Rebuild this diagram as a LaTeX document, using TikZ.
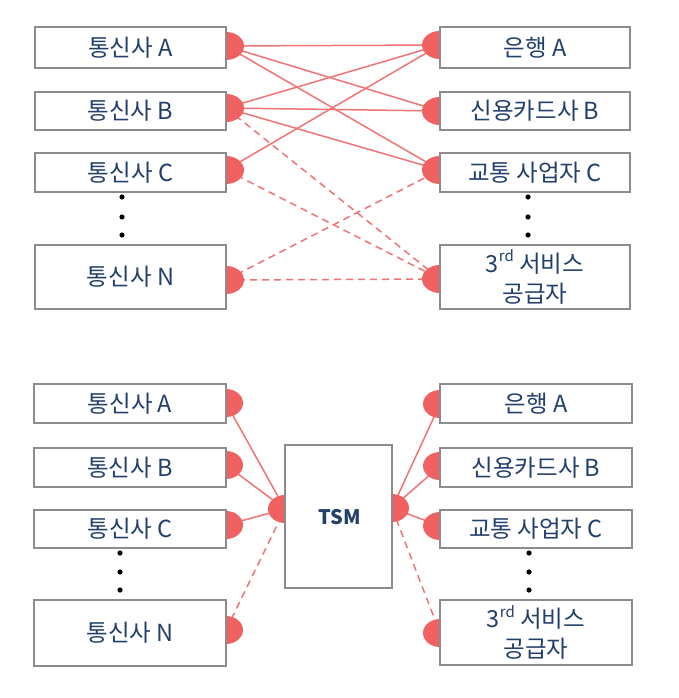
\documentclass[tikz,border=0pt]{standalone}
\usepackage{fontspec}
\setmainfont{Noto Sans CJK KR}
\definecolor{txt}{HTML}{22406C}
\definecolor{boxgray}{HTML}{8C8C8C}
\definecolor{linkred}{HTML}{F07474}
\definecolor{discred}{HTML}{F06262}
\tikzset{
  box/.style={draw=boxgray, line width=2pt, fill=white, inner sep=0pt, align=center,
    font=\fontsize{23.5}{30}\selectfont, text=txt},
  link/.style={draw=linkred, line width=1.5pt},
  dlink/.style={link, dash pattern=on 7pt off 5pt},
  disc/.style={fill=discred},
  dotmark/.style={fill=black},
}
\newcommand{\rdsup}{\raisebox{0.45em}{\fontsize{15}{15}\selectfont rd}}
\begin{document}
\begin{tikzpicture}[x=1pt,y=-1pt]
\useasboundingbox[fill=white] (0,0) rectangle (679,698);
% disc coordinates
\coordinate (tla) at (226,46);
\coordinate (tlb) at (226,108);
\coordinate (tlc) at (226,170);
\coordinate (tln) at (226,280);
\coordinate (tra) at (440,45);
\coordinate (trb) at (440,111);
\coordinate (trc) at (440,170);
\coordinate (trd) at (440,279);
\coordinate (bla) at (226,403);
\coordinate (blb) at (226,465);
\coordinate (blc) at (226,525);
\coordinate (bln) at (226,630);
\coordinate (tsl) at (285,509);
\coordinate (tsr) at (392,508);
\coordinate (bra) at (440,404);
\coordinate (brb) at (440,466);
\coordinate (brc) at (440,526);
\coordinate (brd) at (440,633);
% top connectors
\draw[link] (tla) -- (tra);
\draw[link] (tla) -- (trb);
\draw[link] (tla) -- (trc);
\draw[link] (tlb) -- (tra);
\draw[link] (tlb) -- (trb);
\draw[link] (tlb) -- (trc);
\draw[link] (tlc) -- (tra);
\draw[dlink] (tlb) -- (trd);
\draw[dlink] (tlc) -- (trd);
\draw[dlink] (tln) -- (trc);
\draw[dlink] (tln) -- (trd);
% bottom connectors
\draw[link] (bla) -- (tsl);
\draw[link] (blb) -- (tsl);
\draw[link] (blc) -- (tsl);
\draw[dlink] (bln) -- (tsl);
\draw[link] (tsr) -- (bra);
\draw[link] (tsr) -- (brb);
\draw[link] (tsr) -- (brc);
\draw[dlink] (tsr) -- (brd);
% discs
\foreach \c in {tla,tlb,tlc,tln,tra,trb,trc,trd}
  \fill[disc] (\c) ellipse[x radius=18, y radius=14];
\foreach \c in {bla,blb,blc,bln,bra,brb,brc,brd,tsl,tsr}
  \fill[disc] (\c) ellipse[x radius=17, y radius=14];
% top boxes
\node[box, minimum width=191pt, minimum height=41pt] (LA) at (130.5,47.5) {통신사 A};
\node[box, minimum width=191pt, minimum height=38pt] (LB) at (130.5,111) {통신사 B};
\node[box, minimum width=191pt, minimum height=39pt] (LC) at (130.5,172.5) {통신사 C};
\node[box, minimum width=191pt, minimum height=64pt] (LN) at (130.5,277) {통신사 N};
\node[box, minimum width=190pt, minimum height=41pt] (RA) at (535,47.5) {은행 A};
\node[box, minimum width=190pt, minimum height=38pt] (RB) at (535,111) {신용카드사 B};
\node[box, minimum width=190pt, minimum height=39pt] (RC) at (535,172.5) {교통 사업자 C};
\node[box, minimum width=190pt, minimum height=64pt] (RD) at (535,277) {3\rdsup{} 서비스\\공급자};
% bottom boxes
\node[box, minimum width=192pt, minimum height=39pt] (BLA) at (130,403.5) {통신사 A};
\node[box, minimum width=192pt, minimum height=39pt] (BLB) at (130,467.5) {통신사 B};
\node[box, minimum width=192pt, minimum height=38pt] (BLC) at (130,529) {통신사 C};
\node[box, minimum width=192pt, minimum height=66pt] (BLN) at (130,633) {통신사 N};
\node[box, minimum width=107pt, minimum height=143pt] (TSM) at (338.5,516.5) {};
\node[text=txt, font=\fontsize{20}{24}\selectfont\bfseries] (TSMt) at (340,517) {TSM};
\node[box, minimum width=192pt, minimum height=39pt] (BRA) at (536,403.5) {은행 A};
\node[box, minimum width=192pt, minimum height=39pt] (BRB) at (536,467.5) {신용카드사 B};
\node[box, minimum width=192pt, minimum height=38pt] (BRC) at (536,529) {교통 사업자 C};
\node[box, minimum width=192pt, minimum height=65pt] (BRD) at (536,632.5) {3\rdsup{} 서비스\\공급자};
% dots
\foreach \y in {197,217,235} {
  \fill[dotmark] (122,\y) circle[radius=2.6];
  \fill[dotmark] (528,\y) circle[radius=2.6];
}
\foreach \y in {553,572,590} {
  \fill[dotmark] (120,\y) circle[radius=2.6];
  \fill[dotmark] (529,\y) circle[radius=2.6];
}
\end{tikzpicture}
\end{document}
